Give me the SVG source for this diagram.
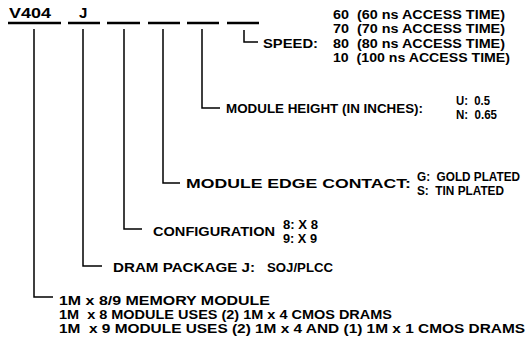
<svg xmlns="http://www.w3.org/2000/svg" width="529" height="339" viewBox="0 0 529 339">
<style>
text{font-family:"Liberation Sans",Arial,Helvetica,sans-serif;font-size:13.5px;font-weight:bold;fill:#000}
.big{font-size:15px}
.sm{font-size:12.5px}
.ln{stroke:#000;stroke-width:1.5;fill:none}
.ul{stroke:#000;stroke-width:2.4;fill:none}
</style>
<rect width="529" height="339" fill="#fff"/>
<g id="part-number">
<text class="big" x="9" y="18" textLength="42" lengthAdjust="spacingAndGlyphs">V404</text>
<text class="big" x="79" y="18">J</text>
<path class="ul" d="M8,23H61M68,23H100M107,23H140M148,23H180M187,23H219M227,23H259"/>
</g>
<g id="connectors">
<path class="ln" d="M34,29V297H53"/>
<path class="ln" d="M83,29V266H102"/>
<path class="ln" d="M124,29V229H142"/>
<path class="ln" d="M163,29V183H180"/>
<path class="ln" d="M202,29V108H220"/>
<path class="ln" d="M244,30V42H258"/>
</g>
<g id="speed">
<text x="263" y="48" textLength="55" lengthAdjust="spacingAndGlyphs">SPEED:</text>
<text x="333" y="18.5" xml:space="preserve" textLength="172" lengthAdjust="spacingAndGlyphs">60  (60 ns ACCESS TIME)</text>
<text x="333" y="33" xml:space="preserve" textLength="172" lengthAdjust="spacingAndGlyphs">70  (70 ns ACCESS TIME)</text>
<text x="333" y="47.5" xml:space="preserve" textLength="172" lengthAdjust="spacingAndGlyphs">80  (80 ns ACCESS TIME)</text>
<text x="333" y="62" xml:space="preserve" textLength="177" lengthAdjust="spacingAndGlyphs">10  (100 ns ACCESS TIME)</text>
</g>
<g id="module-height">
<text x="226" y="112.5" textLength="197" lengthAdjust="spacingAndGlyphs">MODULE HEIGHT (IN INCHES):</text>
<text x="456" y="105" xml:space="preserve" textLength="34" lengthAdjust="spacingAndGlyphs">U:  0.5</text>
<text x="456" y="118.5" xml:space="preserve" textLength="41" lengthAdjust="spacingAndGlyphs">N:  0.65</text>
</g>
<g id="edge-contact">
<text x="186" y="187.5" textLength="225" lengthAdjust="spacingAndGlyphs">MODULE EDGE CONTACT:</text>
<text class="sm" x="417" y="181" xml:space="preserve" textLength="103" lengthAdjust="spacingAndGlyphs">G:  GOLD PLATED</text>
<text class="sm" x="417" y="194.5" xml:space="preserve" textLength="87" lengthAdjust="spacingAndGlyphs">S:  TIN PLATED</text>
</g>
<g id="configuration">
<text x="153" y="235.5" textLength="122" lengthAdjust="spacingAndGlyphs">CONFIGURATION</text>
<text x="283" y="228.5" textLength="35" lengthAdjust="spacingAndGlyphs">8: X 8</text>
<text x="283" y="242.5" textLength="34" lengthAdjust="spacingAndGlyphs">9: X 9</text>
</g>
<g id="dram-package">
<text x="113" y="272" textLength="142" lengthAdjust="spacingAndGlyphs">DRAM PACKAGE J:</text>
<text x="267" y="272" textLength="66" lengthAdjust="spacingAndGlyphs">SOJ/PLCC</text>
</g>
<g id="memory-module">
<text x="59" y="305" textLength="211" lengthAdjust="spacingAndGlyphs">1M x 8/9 MEMORY MODULE</text>
<text x="59" y="319" xml:space="preserve" textLength="333" lengthAdjust="spacingAndGlyphs">1M  x 8 MODULE USES (2) 1M x 4 CMOS DRAMS</text>
<text x="59" y="333" xml:space="preserve" textLength="466" lengthAdjust="spacingAndGlyphs">1M  x 9 MODULE USES (2) 1M x 4 AND (1) 1M x 1 CMOS DRAMS</text>
</g>
</svg>
